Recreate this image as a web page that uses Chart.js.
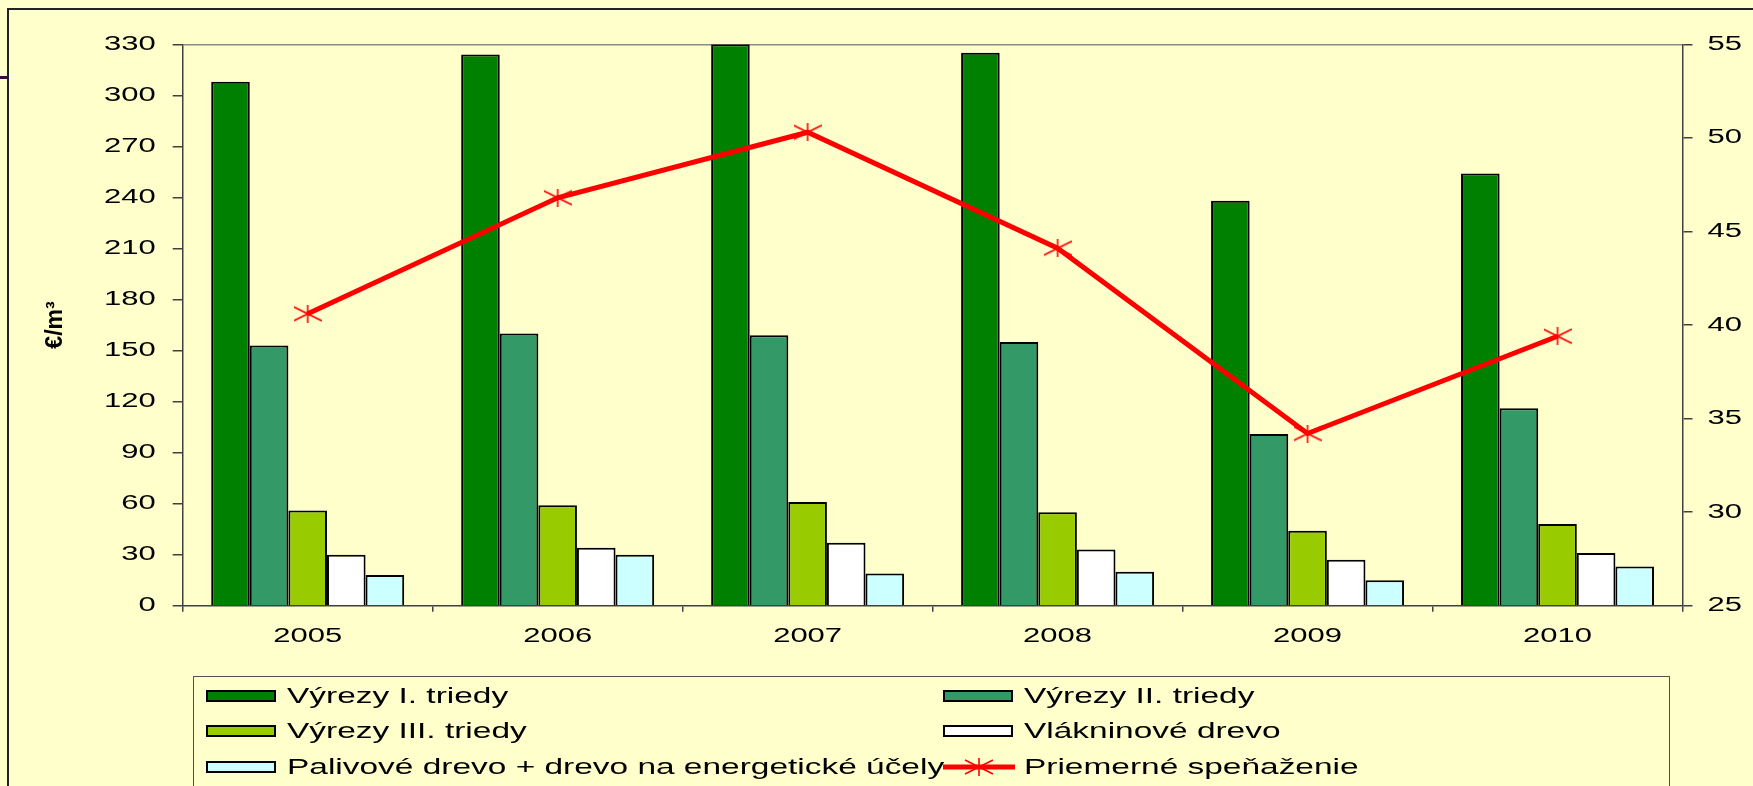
<!DOCTYPE html>
<html lang="sk">
<head>
<meta charset="UTF-8">
<title>Speňaženie dreva 2005 - 2010</title>
<script src="https://cdn.jsdelivr.net/npm/chart.js"></script>
<style>
  html, body { margin: 0; padding: 0; background: #ffffcc; overflow: hidden; }
  #frame { position: absolute; left: 7px; top: 8px; right: -10px; bottom: -10px;
           border-top: 2px solid #222; border-left: 2px solid #222; }
  #mark { position: absolute; left: 0; top: 76px; width: 8px; height: 3px; background: #3a0a3a; }
  #chart { position: absolute; left: 0; top: 0; }
  #legend { position: absolute; left: 193px; top: 676px; width: 1477px; height: 130px;
            border: 1px solid #505050; box-sizing: border-box; }
  .item { position: absolute; height: 35px; display: flex; align-items: center; }
  .swatch { width: 70px; height: 12px; border: 2px solid #000; box-sizing: border-box; }
  .label { margin-left: 11px; font: 22px "Liberation Sans", Arial, sans-serif; color: #000;
           display: inline-block; transform: scaleX(1.52); transform-origin: left center; white-space: nowrap; }
</style>
</head>
<body>
<div id="frame"></div>
<div id="mark"></div>
<canvas id="chart" width="1753" height="786"></canvas>
<div id="legend"></div>
<script>
// data
const years = ['2005', '2006', '2007', '2008', '2009', '2010'];
const vyrezy1 = [308, 324, 330, 325, 238, 254];
const vyrezy2 = [153, 160, 159, 155, 101, 116];
const vyrezy3 = [56, 59, 61, 55, 44, 48];
const vlakninove = [30, 34, 37, 33, 27, 31];
const palivove = [18, 30, 19, 20, 15, 23];
const priemer = [40.6, 46.8, 50.3, 44.1, 34.2, 39.4];

const seriesNames = ['Výrezy I. triedy', 'Výrezy II. triedy', 'Výrezy III. triedy',
                     'Vlákninové drevo', 'Palivové drevo + drevo na energetické účely', 'Priemerné speňaženie'];

// the original picture is stretched sideways, so the canvas text is too
const STRETCH = 1.55;
const stretchText = {
    id: 'stretchText',
    beforeDraw(chart) {
        const ctx = chart.ctx;
        if (ctx.stretched) return;
        const fill = ctx.fillText;
        ctx.fillText = function (text, x, y) {
            const m = this.getTransform();
            if (m.b !== 0) return fill.call(this, text, x, y);
            const px = m.a * x + m.c * y + m.e;
            this.setTransform(m.a * STRETCH, m.b, m.c * STRETCH, m.d, (m.e - px) * STRETCH + px, m.f);
            fill.call(this, text, x, y);
            this.setTransform(m);
        };
        ctx.stretched = true;
    }
};

function makeStar(w, h, lineW) {
    const c = document.createElement('canvas');
    c.width = w; c.height = h;
    const g = c.getContext('2d');
    const ox = (w - 28) / 2, oy = (h - 18) / 2;
    if (lineW) {
        g.strokeStyle = '#ff0000';
        g.lineWidth = lineW;
        g.beginPath();
        g.moveTo(0, h / 2); g.lineTo(w, h / 2);
        g.stroke();
    }
    g.strokeStyle = '#ff0000';
    g.lineWidth = 1.6;
    g.beginPath();
    g.moveTo(ox + 14, oy); g.lineTo(ox + 14, oy + 18);
    g.moveTo(ox, oy + 2); g.lineTo(ox + 28, oy + 16);
    g.moveTo(ox, oy + 16); g.lineTo(ox + 28, oy + 2);
    g.stroke();
    return c;
}

const star = makeStar(28, 18);
const tickFont = { family: '"Liberation Sans", Arial, sans-serif', size: 20 };

function bar(label, data, color) {
    return { label: label, data: data, backgroundColor: color, borderColor: '#000', borderWidth: 2,
             yAxisID: 'y', order: 1, categoryPercentage: 0.772, barPercentage: 1 };
}

const ctx = document.getElementById('chart').getContext('2d');
const chart = new Chart(ctx, {
    type: 'bar',
    data: {
        labels: years,
        datasets: [
            bar(seriesNames[0], vyrezy1, '#008000'),
            bar(seriesNames[1], vyrezy2, '#339966'),
            bar(seriesNames[2], vyrezy3, '#99cc00'),
            bar(seriesNames[3], vlakninove, '#ffffff'),
            bar(seriesNames[4], palivove, '#ccffff'),
            {
                type: 'line', label: seriesNames[5], data: priemer, yAxisID: 'y1', order: 0,
                borderColor: '#ff0000', borderWidth: 5, tension: 0, fill: false,
                pointStyle: star, pointRadius: 9
            }
        ]
    },
    options: {
        responsive: false,
        animation: false,
        layout: { padding: { top: 44.3, left: 0, right: 0, bottom: 0 } },
        plugins: { legend: { display: false }, tooltip: { enabled: false } },
        scales: {
            x: {
                offset: true,
                grid: { offset: true, drawOnChartArea: false, tickLength: 6, color: '#404040', lineWidth: 1.5 },
                border: { color: '#404040', width: 1.5 },
                ticks: { padding: 13, color: '#000', font: tickFont, maxRotation: 0 },
                afterFit: s => { s.height = 180.3; }
            },
            y: {
                position: 'left', min: 0, max: 330,
                ticks: { stepSize: 30, padding: 17, color: '#000', font: tickFont },
                grid: {
                    color: c => (c.tick && c.tick.value === 330) ? '#8a8a8a' : 'rgba(0,0,0,0)',
                    tickColor: '#404040', tickLength: 10, lineWidth: 1.5
                },
                border: { color: '#404040', width: 1.5 },
                title: {
                    display: true, text: '€/m³', color: '#000', padding: { top: 42, bottom: 0 },
                    font: { family: '"Liberation Sans", Arial, sans-serif', size: 23, weight: 'bold' }
                },
                afterFit: s => { s.width = 182.7; }
            },
            y1: {
                position: 'right', min: 25, max: 55,
                ticks: { stepSize: 5, padding: 15, color: '#000', font: tickFont },
                grid: { drawOnChartArea: false, tickLength: 10, color: '#404040', lineWidth: 1.5 },
                border: { color: '#404040', width: 1.5 },
                afterFit: s => { s.width = 70.5; }
            }
        }
    },
    plugins: [stretchText]
});

// legend in two columns, built from the datasets
const legendBox = document.getElementById('legend');
chart.data.datasets.forEach((ds, i) => {
    const item = document.createElement('div');
    item.className = 'item';
    item.style.left = (12 + (i % 2) * 737) + 'px';
    item.style.top = (1 + Math.floor(i / 2) * 35.5) + 'px';
    let sw;
    if (ds.type === 'line') {
        sw = makeStar(72, 20, 5);
        sw.style.marginRight = '-2px';
    } else {
        sw = document.createElement('div');
        sw.className = 'swatch';
        sw.style.background = ds.backgroundColor;
    }
    const txt = document.createElement('span');
    txt.className = 'label';
    txt.textContent = ds.label;
    item.appendChild(sw);
    item.appendChild(txt);
    legendBox.appendChild(item);
});
</script>
</body>
</html>
